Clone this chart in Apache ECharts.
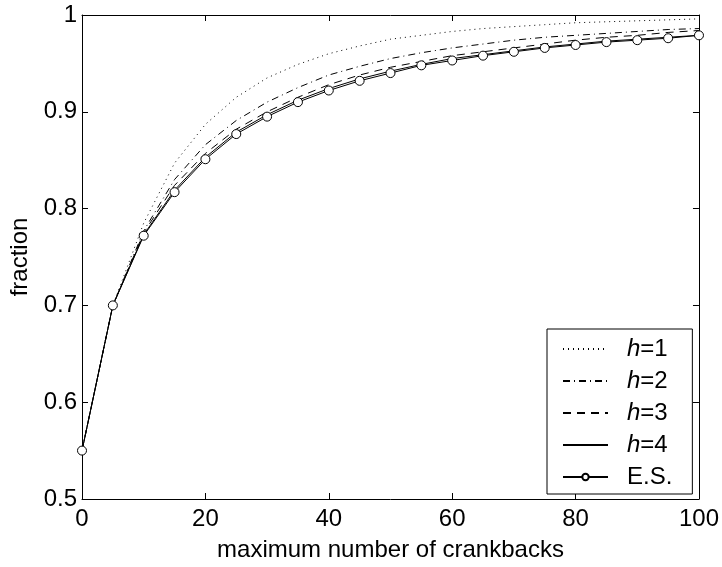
<!DOCTYPE html>
<html>
<head>
<meta charset="utf-8">
<script src="https://cdn.jsdelivr.net/npm/echarts@6/dist/echarts.min.js"></script>
<style>
html,body{margin:0;padding:0;background:#fff;}
#chart{width:722px;height:567px;}
</style>
</head>
<body>
<div id="chart"></div>
<script>
var crankbacks = [0,5,10,15,20,25,30,35,40,45,50,55,60,65,70,75,80,85,90,95,100];
var h1 = [0.55,0.70,0.785,0.847,0.887,0.915,0.935,0.949,0.960,0.968,0.975,0.979,0.983,0.986,0.988,0.990,0.992,0.993,0.994,0.995,0.996];
var h2 = [0.55,0.70,0.777,0.830,0.866,0.891,0.910,0.925,0.938,0.947,0.955,0.961,0.966,0.970,0.974,0.977,0.979,0.981,0.983,0.985,0.986];
var h3 = [0.55,0.70,0.775,0.824,0.857,0.882,0.900,0.915,0.928,0.938,0.946,0.952,0.958,0.962,0.966,0.970,0.974,0.977,0.979,0.982,0.984];
var h4 = [0.55,0.70,0.773,0.819,0.853,0.879,0.897,0.912,0.924,0.934,0.942,0.949,0.955,0.959,0.963,0.967,0.970,0.973,0.975,0.977,0.979];
var es = [0.55,0.70,0.772,0.817,0.851,0.877,0.895,0.910,0.922,0.932,0.940,0.948,0.953,0.958,0.962,0.966,0.969,0.972,0.974,0.976,0.979];
var seriesNames = ['h=1','h=2','h=3','h=4','E.S.'];
var xTitle = 'maximum number of crankbacks';
var yTitle = 'fraction';

function pairs(v){ return crankbacks.map(function(x,i){ return [x, v[i]]; }); }

var FONT = '"Liberation Sans", Arial, sans-serif';
var chart = echarts.init(document.getElementById('chart'));
var axisCommon = {
  axisLine:{show:true, onZero:false, lineStyle:{color:'#000', width:1}},
  axisTick:{show:true, inside:true, length:6, lineStyle:{color:'#000', width:1}},
  splitLine:{show:false}
};
function lineSeries(name, data, dash){
  return {
    name:name, type:'line', data:pairs(data), symbol:'none', showSymbol:false,
    smooth:false, animation:false,
    lineStyle:{color:'#000', width:1, type:dash},
    itemStyle:{color:'#000'}
  };
}
var legendData = seriesNames.map(function(n){
  if(n === 'E.S.'){ return {name:n}; }
  return {name:n, itemStyle:{color:'rgba(0,0,0,0)', borderColor:'rgba(0,0,0,0)', borderWidth:0, opacity:0}};
});
chart.setOption({
  backgroundColor:'#fff',
  animation:false,
  grid:{left:82, right:23, top:15, bottom:66, containLabel:false},
  legend:{
    orient:'vertical', left:547, top:329,
    backgroundColor:'#fff', borderColor:'#000', borderWidth:1, borderRadius:0,
    padding:[8,20,5,15], itemGap:8, itemWidth:45, itemHeight:8,
    data:legendData,
    formatter:function(n){
      if(n.charAt(0)==='h'){ return '{i|h}{n|' + n.slice(1) + '}'; }
      return '{n|' + n + '}';
    },
    textStyle:{
      color:'#000', fontFamily:FONT, fontSize:24, lineHeight:24, padding:[0,0,0,14],
      rich:{
        i:{fontStyle:'italic', fontFamily:FONT, fontSize:24, color:'#000', lineHeight:24},
        n:{fontFamily:FONT, fontSize:24, color:'#000', lineHeight:24}
      }
    }
  },
  xAxis:[
    Object.assign({}, axisCommon, {
      type:'value', min:0, max:100, interval:20, position:'bottom',
      name:xTitle, nameLocation:'middle', nameGap:39,
      nameTextStyle:{color:'#000', fontFamily:FONT, fontSize:24},
      axisLabel:{color:'#000', fontFamily:FONT, fontSize:24, margin:8}
    }),
    Object.assign({}, axisCommon, {
      type:'value', min:0, max:100, interval:20, position:'top',
      axisLabel:{show:false}
    })
  ],
  yAxis:[
    Object.assign({}, axisCommon, {
      type:'value', min:0.5, max:1, interval:0.1, position:'left',
      name:yTitle, nameLocation:'middle', nameGap:46, nameRotate:90,
      nameTextStyle:{color:'#000', fontFamily:FONT, fontSize:24},
      axisLabel:{color:'#000', fontFamily:FONT, fontSize:24, margin:5}
    }),
    Object.assign({}, axisCommon, {
      type:'value', min:0.5, max:1, interval:0.1, position:'right',
      axisLabel:{show:false}
    })
  ],
  series:[
    lineSeries('h=1', h1, [1,4]),
    lineSeries('h=2', h2, [7,4,1,4]),
    lineSeries('h=3', h3, [8,6]),
    lineSeries('h=4', h4, 'solid'),
    {
      name:'E.S.', type:'line', data:pairs(es), symbol:'circle', symbolSize:9,
      showSymbol:true, animation:false,
      lineStyle:{color:'#000', width:1, type:'solid'},
      itemStyle:{color:'#fff', borderColor:'#000', borderWidth:1}
    }
  ]
});
</script>
</body>
</html>
